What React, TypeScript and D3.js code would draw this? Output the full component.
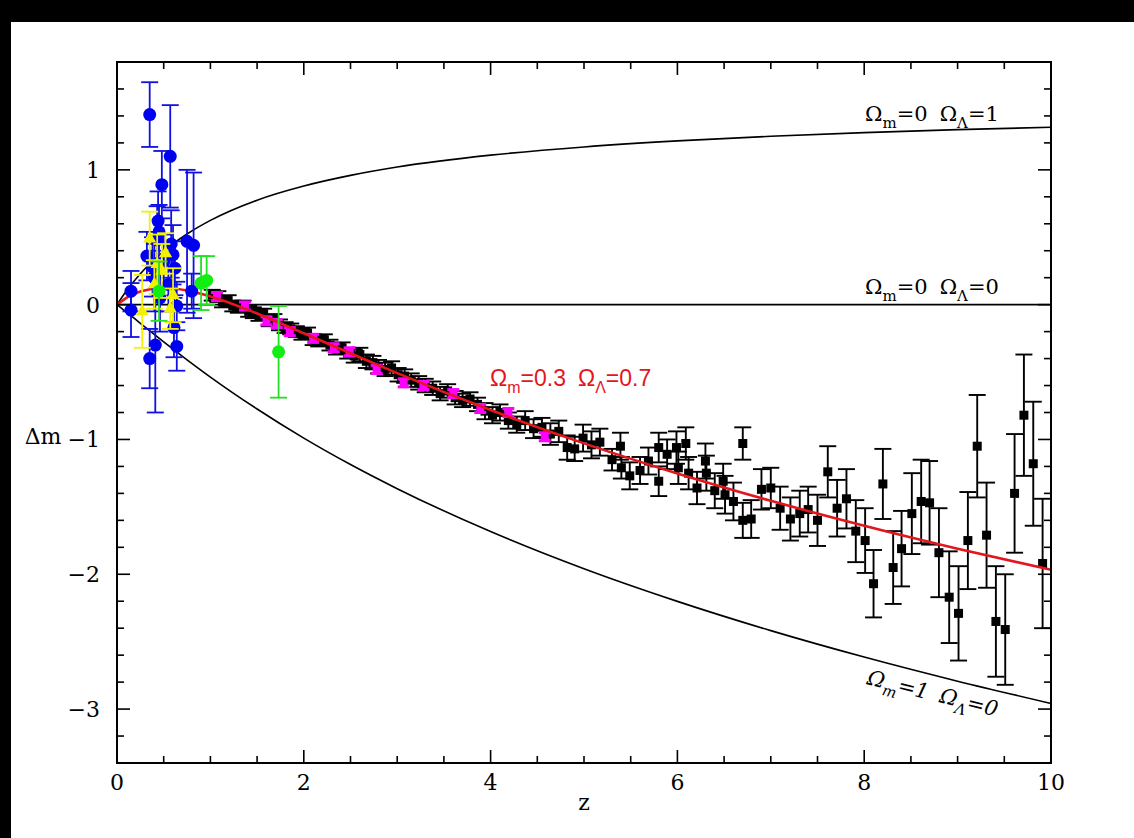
import React from "react";
import * as d3 from "d3";

// model curves at these redshifts
const curveZ = [0, 0.1, 0.25, 0.5, 0.75, 1, 1.5, 2, 2.5, 3, 4, 5, 6, 7, 8, 9, 10];
const emptyModel = [0, 0, 0, 0, 0, 0, 0, 0, 0, 0, 0, 0, 0, 0, 0, 0, 0];
const lambdaModel = [0, 0.101, 0.229, 0.396, 0.524, 0.625, 0.775, 0.88, 0.959, 1.021, 1.109, 1.17, 1.215, 1.249, 1.276, 1.298, 1.316];
const matterModel = [0, -0.055, -0.138, -0.276, -0.409, -0.537, -0.774, -0.99, -1.186, -1.365, -1.683, -1.959, -2.201, -2.418, -2.614, -2.793, -2.958];
const concordanceModel = [0, 0.051, 0.098, 0.123, 0.105, 0.061, -0.065, -0.212, -0.361, -0.508, -0.782, -1.029, -1.252, -1.455, -1.64, -1.81, -1.967];

// data points: [z, dm, err]
const blueSN = [
  [0.35, 1.41, 0.24], [0.57, 1.1, 0.38], [0.48, 0.89, 0.25], [0.44, 0.62, 0.22],
  [0.45, 0.54, 0.2], [0.43, 0.48, 0.25], [0.75, 0.47, 0.53], [0.82, 0.44, 0.54],
  [0.32, 0.36, 0.18], [0.6, 0.37, 0.22], [0.62, 0.27, 0.2], [0.15, 0.1, 0.15],
  [0.15, -0.04, 0.2], [0.4, 0.2, 0.25], [0.55, 0.15, 0.2], [0.64, -0.01, 0.18],
  [0.8, 0.1, 0.13], [0.41, -0.3, 0.5], [0.35, -0.4, 0.22], [0.64, -0.31, 0.18],
  [0.61, -0.17, 0.22], [0.5, 0.32, 0.2], [0.58, 0.45, 0.25], [0.46, 0.05, 0.25],
  [0.38, 0.28, 0.22],
];
const yellowSN = [
  [0.35, 0.49, 0.2], [0.43, 0.3, 0.22], [0.48, 0.25, 0.2], [0.6, 0.07, 0.2],
  [0.57, -0.03, 0.15], [0.27, -0.05, 0.27], [0.4, 0.15, 0.18], [0.52, 0.38, 0.15],
];
const greenSN = [
  [0.45, 0.1, 0.22], [0.9, 0.16, 0.2], [0.96, 0.18, 0.18], [1.73, -0.35, 0.34],
];
const magentaSN = [
  [1.07, 0.06, 0.03], [1.37, -0.01, 0.03], [1.6, -0.12, 0.03], [1.71, -0.14, 0.03],
  [1.85, -0.2, 0.03], [2.1, -0.25, 0.03], [2.32, -0.32, 0.03], [2.49, -0.35, 0.03],
  [2.78, -0.48, 0.03], [3.07, -0.58, 0.03], [3.28, -0.6, 0.03], [3.6, -0.66, 0.03],
  [3.89, -0.77, 0.03], [4.19, -0.8, 0.03], [4.58, -0.98, 0.03],
];
const blackSN = [
  [1.02, 0.07, 0.04], [1.08, 0.06, 0.04], [1.13, 0.02, 0.04], [1.19, 0.03, 0.04],
  [1.24, -0.01, 0.04], [1.3, -0.02, 0.04], [1.35, -0.01, 0.04], [1.41, -0.05, 0.04],
  [1.46, -0.06, 0.04], [1.52, -0.08, 0.04], [1.57, -0.07, 0.04], [1.63, -0.12, 0.04],
  [1.68, -0.11, 0.04], [1.74, -0.15, 0.04], [1.8, -0.17, 0.04], [1.86, -0.18, 0.04],
  [1.92, -0.2, 0.04], [1.98, -0.22, 0.04], [2.04, -0.21, 0.04], [2.1, -0.26, 0.04],
  [2.16, -0.27, 0.04], [2.22, -0.26, 0.04], [2.28, -0.3, 0.04], [2.35, -0.33, 0.04],
  [2.41, -0.32, 0.04], [2.47, -0.36, 0.04], [2.54, -0.38, 0.05], [2.6, -0.37, 0.05],
  [2.67, -0.42, 0.05], [2.74, -0.43, 0.05], [2.8, -0.46, 0.05], [2.87, -0.48, 0.05],
  [2.94, -0.47, 0.05], [3.01, -0.52, 0.05], [3.08, -0.53, 0.05], [3.15, -0.56, 0.05],
  [3.23, -0.58, 0.05], [3.3, -0.6, 0.05], [3.38, -0.62, 0.05], [3.46, -0.66, 0.05],
  [3.54, -0.64, 0.05], [3.62, -0.69, 0.05], [3.7, -0.71, 0.05], [3.78, -0.7, 0.05],
  [3.86, -0.74, 0.05], [3.94, -0.79, 0.06], [4.02, -0.82, 0.06], [4.1, -0.8, 0.06],
  [4.19, -0.86, 0.06], [4.28, -0.89, 0.06], [4.37, -0.86, 0.07], [4.46, -0.92, 0.07],
  [4.55, -0.91, 0.07], [4.64, -0.96, 0.08], [4.73, -0.94, 0.08], [4.82, -1.06, 0.09],
  [4.9, -1.07, 0.09], [4.99, -0.99, 0.1], [5.08, -1.04, 0.1], [5.17, -1.02, 0.1],
  [5.3, -1.15, 0.08], [5.39, -1.05, 0.1], [5.4, -1.21, 0.08], [5.49, -1.27, 0.1],
  [5.6, -1.23, 0.1], [5.69, -1.16, 0.1], [5.8, -1.06, 0.11], [5.8, -1.31, 0.11],
  [5.89, -1.11, 0.11], [5.99, -1.06, 0.12], [6.01, -1.21, 0.12], [6.09, -1.03, 0.12],
  [6.12, -1.25, 0.12], [6.21, -1.36, 0.12], [6.3, -1.16, 0.13], [6.31, -1.25, 0.13],
  [6.4, -1.38, 0.13], [6.49, -1.31, 0.13], [6.51, -1.41, 0.14], [6.6, -1.46, 0.14],
  [6.7, -1.03, 0.12], [6.7, -1.6, 0.13], [6.79, -1.59, 0.14], [6.9, -1.37, 0.15],
  [7.0, -1.36, 0.15], [7.1, -1.51, 0.16], [7.21, -1.59, 0.16], [7.31, -1.55, 0.17],
  [7.4, -1.52, 0.17], [7.5, -1.6, 0.19], [7.61, -1.24, 0.19], [7.71, -1.51, 0.21],
  [7.81, -1.44, 0.22], [7.91, -1.68, 0.23], [8.01, -1.75, 0.24], [8.1, -2.07, 0.25],
  [8.2, -1.33, 0.26], [8.31, -1.95, 0.27], [8.4, -1.81, 0.28], [8.51, -1.55, 0.3],
  [8.61, -1.46, 0.31], [8.7, -1.47, 0.31], [8.8, -1.84, 0.33], [8.91, -2.17, 0.34],
  [9.01, -2.29, 0.35], [9.11, -1.75, 0.36], [9.21, -1.05, 0.38], [9.31, -1.71, 0.39],
  [9.41, -2.35, 0.41], [9.51, -2.41, 0.41], [9.61, -1.4, 0.44], [9.71, -0.82, 0.45],
  [9.81, -1.18, 0.46], [9.91, -1.92, 0.48],
];

const xTicksMajor = [0, 2, 4, 6, 8, 10];
const yTicksMajor = [-3, -2, -1, 0, 1];

const W = 1134;
const H = 838;
const plot = { left: 117, right: 1051, top: 62, bottom: 763 };

const serif = "'DejaVu Serif', serif";

const ErrorBars = ({ data, x, y, color, cap, width }) => (
  <g stroke={color} strokeWidth={width} fill="none">
    {data.map(([z, dm, e], i) => {
      const cx = x(z);
      const y1 = y(dm + e);
      const y2 = y(dm - e);
      return (
        <g key={i}>
          <line x1={cx} x2={cx} y1={y1} y2={y2} />
          <line x1={cx - cap} x2={cx + cap} y1={y1} y2={y1} />
          <line x1={cx - cap} x2={cx + cap} y1={y2} y2={y2} />
        </g>
      );
    })}
  </g>
);

// Omega label with subscripts: Ω_m=a  Ω_Λ=b
const OmegaLabel = ({ a, b, sub, gap }) => (
  <>
    Ω<tspan dy={sub * 0.45} fontSize={sub}>m</tspan>
    <tspan dy={-sub * 0.45}>={a}</tspan>
    <tspan dx={gap}>Ω</tspan>
    <tspan dy={sub * 0.45} fontSize={sub}>Λ</tspan>
    <tspan dy={-sub * 0.45}>={b}</tspan>
  </>
);

const App = () => {
  const x = d3.scaleLinear().domain([0, 10]).range([plot.left, plot.right]);
  const y = d3.scaleLinear().domain([-3.4, 1.8]).range([plot.bottom, plot.top]);

  const line = (vals) =>
    d3.line().curve(d3.curveMonotoneX)(curveZ.map((z, i) => [x(z), y(vals[i])]));

  const xMinor = d3.range(0, 10.01, 0.5);
  const yMinor = d3.range(-3.4, 1.81, 0.2);

  const tri = d3.symbol().type(d3.symbolTriangle).size(75)();

  return (
    <svg width={W} height={H} style={{ position: "absolute", left: 0, top: 0 }}>
      <rect width={W} height={H} fill="#fff" />
      <rect width={W} height={22} fill="#000" />
      <rect width={11} height={H} fill="#000" />

      {/* model curves */}
      <path d={line(lambdaModel)} fill="none" stroke="#000" strokeWidth={1.6} />
      <path d={line(emptyModel)} fill="none" stroke="#000" strokeWidth={1.6} />
      <path d={line(matterModel)} fill="none" stroke="#000" strokeWidth={1.6} />

      {/* high-z black points */}
      <ErrorBars data={blackSN} x={x} y={y} color="#000" cap={8.5} width={1.9} />
      {blackSN.map(([z, dm], i) => (
        <rect key={i} x={x(z) - 4.5} y={y(dm) - 4.5} width={9} height={9} fill="#000" />
      ))}

      <ErrorBars data={magentaSN} x={x} y={y} color="#ff00ff" cap={6} width={3} />
      {magentaSN.map(([z, dm], i) => (
        <rect key={i} x={x(z) - 4} y={y(dm) - 4} width={8} height={8} fill="#ff00ff" />
      ))}

      <path d={line(concordanceModel)} fill="none" stroke="#e3161c" strokeWidth={2.6} />

      {/* low-z points */}
      <ErrorBars data={blueSN} x={x} y={y} color="#1010e0" cap={8.5} width={1.8} />
      {blueSN.map(([z, dm], i) => (
        <circle key={i} cx={x(z)} cy={y(dm)} r={6.5} fill="#0000f0" />
      ))}
      <ErrorBars data={yellowSN} x={x} y={y} color="#f2f200" cap={8.5} width={1.8} />
      {yellowSN.map(([z, dm], i) => (
        <path key={i} d={tri} transform={`translate(${x(z)},${y(dm)})`} fill="#f2f200" />
      ))}
      <ErrorBars data={greenSN} x={x} y={y} color="#22e022" cap={8.5} width={1.8} />
      {greenSN.map(([z, dm], i) => (
        <circle key={i} cx={x(z)} cy={y(dm)} r={6.5} fill="#11ee11" />
      ))}

      {/* frame */}
      <rect
        x={plot.left}
        y={plot.top}
        width={plot.right - plot.left}
        height={plot.bottom - plot.top}
        fill="none"
        stroke="#000"
        strokeWidth={2}
      />
      <g stroke="#000" strokeWidth={1.6}>
        {xMinor.map((v, i) => {
          const len = xTicksMajor.includes(Math.round(v * 10) / 10) ? 13 : 7;
          return (
            <g key={i}>
              <line x1={x(v)} x2={x(v)} y1={plot.bottom} y2={plot.bottom - len} />
              <line x1={x(v)} x2={x(v)} y1={plot.top} y2={plot.top + len} />
            </g>
          );
        })}
        {yMinor.map((v, i) => {
          const r = Math.round(v * 10) / 10;
          const len = yTicksMajor.includes(r) ? 13 : 7;
          return (
            <g key={i}>
              <line x1={plot.left} x2={plot.left + len} y1={y(r)} y2={y(r)} />
              <line x1={plot.right} x2={plot.right - len} y1={y(r)} y2={y(r)} />
            </g>
          );
        })}
      </g>

      <g fontFamily={serif} fontSize={22} fill="#000">
        {xTicksMajor.map((v) => (
          <text key={v} x={x(v)} y={790} textAnchor="middle">
            {v}
          </text>
        ))}
        {yTicksMajor.map((v) => (
          <text key={v} x={100} y={y(v) + 8} textAnchor="end">
            {v < 0 ? "\u2212" + Math.abs(v) : v}
          </text>
        ))}
        <text x={584} y={810} textAnchor="middle">z</text>
        <text x={43} y={444} textAnchor="middle">Δm</text>

        <text x={865} y={121} fontSize={21}>
          <OmegaLabel a={0} b={1} sub={15} gap={12} />
        </text>
        <text x={865} y={294} fontSize={21}>
          <OmegaLabel a={0} b={0} sub={15} gap={12} />
        </text>
        <text x={866} y={684} fontSize={21} fontStyle="italic" transform="rotate(14 866 684)">
          <OmegaLabel a={1} b={0} sub={15} gap={12} />
        </text>
      </g>
      <text x={490} y={386} fontFamily="'Liberation Sans', Arial, sans-serif" fontSize={23} fill="#e3161c">
        <OmegaLabel a={0.3} b={0.7} sub={16} gap={12} />
      </text>
    </svg>
  );
};

export default App;
